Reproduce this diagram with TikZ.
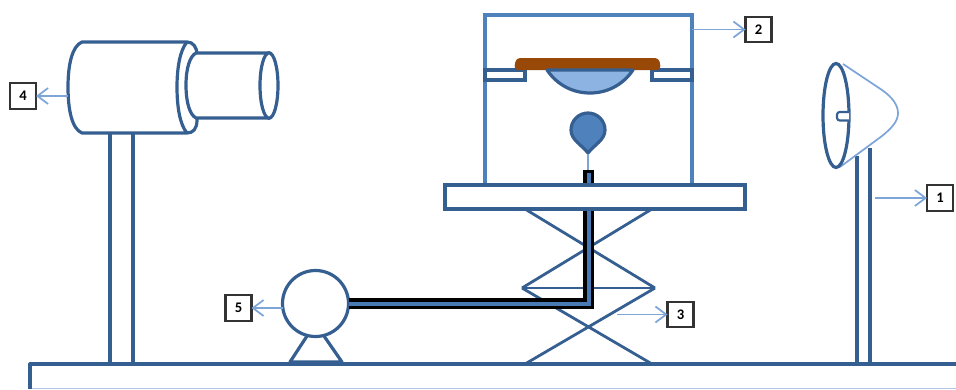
\documentclass[tikz,border=0pt]{standalone}
\usepackage{fontspec}
\setmainfont{Carlito}
\usetikzlibrary{arrows.meta,positioning,shapes.geometric,calc}
\definecolor{DarkBlue}{RGB}{54,95,145}
\definecolor{MidBlue}{RGB}{79,129,189}
\definecolor{PaleBlue}{RGB}{125,165,215}
\definecolor{LensBlue}{RGB}{141,179,226}
\definecolor{Sample}{RGB}{152,72,7}
\tikzset{
  part/.style={draw=DarkBlue,line width=2.4pt,outer sep=0pt,inner sep=0pt,fill=white},
  tag/.style={draw=black!80,line width=1.6pt,fill=white,outer sep=0pt,inner sep=0pt,
    minimum width=19.5pt,minimum height=19pt,font=\bfseries\fontsize{11}{12}\selectfont},
  pointer/.style={-{Straight Barb[length=8pt,width=12pt]},line width=1.3pt,PaleBlue},
  stroke/.style={draw=DarkBlue,line width=2.4pt,line join=round},
  tube/.style={line width=#1,line join=miter}
}

\begin{document}
\begin{tikzpicture}[x=0.75pt,y=-0.75pt]
\useasboundingbox (0,0) rectangle (956,389);

% Table
\draw[PaleBlue!60,line width=0.8pt] (30,388.5) -- (956,388.5);
\draw[stroke] (30,389) -- (30,364) -- (956,364);

% Posts
\draw[stroke] (110,133) -- (110,364) (133,133) -- (133,364);
\draw[stroke] (857,156) -- (857,364) (870,148) -- (870,364);

% Scissor lift
\foreach \a/\b in {525/655,652/522}{
  \draw[stroke,line width=2.1pt] (\a,209) -- (\b,288);
}
\foreach \a/\b in {522/652,655/525}{
  \draw[stroke,line width=2.1pt] (\a,288) -- (\b,364);
}
\draw[stroke,line width=2.1pt] (522,288) -- (655,288);

% Camera
\draw[stroke,fill=white] (82,42) .. controls (72,46) and (68,65) .. (68,87)
  .. controls (68,110) and (72,129) .. (82,133) -- (187,133)
  .. controls (193,133) and (197,129) .. (197,120) -- (197,55)
  .. controls (197,47) and (193,42) .. (187,42) -- cycle;
\draw[stroke,fill=white] (196,53) .. controls (190,56) and (186,68) .. (186,85)
  .. controls (186,103) and (190,115) .. (196,118) -- (270,118) -- (270,53) -- cycle;
\draw[stroke] (187,42) .. controls (180,50) and (177,68) .. (177,87)
  .. controls (177,107) and (180,125) .. (187,133);
\node[part,ellipse,minimum width=13.5pt,minimum height=49pt] (lens) at (269,85.5) {};

% Chamber
\node[part,draw=MidBlue,minimum width=155.25pt,minimum height=127.5pt] (chamber) at (588.5,100) {};
\node[part,minimum width=30pt,minimum height=7.5pt] (ledgeL) at (505,75) {};
\node[part,minimum width=30pt,minimum height=7.5pt] (ledgeR) at (672,75) {};
\fill[Sample,rounded corners=3pt] (514,70) -- (516,58) -- (659,58) -- (661,70) -- cycle;
\draw[stroke,fill=LensBlue] (547,70) .. controls (558,86) and (574,93) .. (590,93)
  .. controls (606,93) and (622,86) .. (633,70) -- cycle;

% Droplet
\draw[stroke,fill=MidBlue] (588,153) .. controls (582,145) and (571,140) .. (571,130)
  .. controls (571,120.6) and (578.6,113) .. (588,113)
  .. controls (597.4,113) and (605,120.6) .. (605,130)
  .. controls (605,140) and (594,145) .. (588,153) -- cycle;
\draw[PaleBlue,line width=1.5pt] (588,154) -- (588,171);

% Pump
\draw[stroke,fill=white] (307,336) -- (290,362) -- (342,362) -- (324,336);
\node[part,circle,minimum size=49.5pt] (pump) at (315.5,303.5) {};

% Tubing
\coordinate (tubeend) at (588.5,170);
\coordinate (tubebend) at (588.5,303.5);
\draw[tube=8pt,black] (pump.east) -- (tubebend) -- (tubeend);
\draw[tube=3pt,MidBlue!80!DarkBlue] (pump.east) -- (tubebend) -- (588.5,173);

% Stage
\node[part,minimum width=225pt,minimum height=18pt] (stage) at (595,197) {};

% Lamp
\draw[PaleBlue,line width=1.3pt] (843,64) -- (882,90) .. controls (892,97) and (898,105) .. (898,113)
  .. controls (898,121) and (892,128) .. (882,136) -- (840,167);
\node[part,ellipse,fill=none,minimum width=19.5pt,minimum height=78pt] (lamp) at (836,115.5) {};
\draw[stroke,line width=1.6pt,fill=white,rounded corners=2pt] (849,112) -- (837,112) -- (837,120.5) -- (849,120.5);

% Labels
\node[tag] (tag1) at (940,198) {1};
\node[tag] (tag2) at (758.5,29.5) {2};
\node[tag] (tag3) at (680.5,314.5) {3};
\node[tag] (tag4) at (23,96) {4};
\node[tag] (tag5) at (238.5,308) {5};

\coordinate (from1) at (875,198);
\coordinate (from3) at (617,314.5);
\coordinate (from4) at (68,96);
\draw[pointer] (from1) -- (tag1.west);
\draw[pointer] (chamber.east |- tag2) -- (tag2.west);
\draw[pointer] (from3) -- (tag3.west);
\draw[pointer] (from4) -- (tag4.east);
\draw[pointer] (pump.west |- tag5) -- (tag5.east);

\end{tikzpicture}
\end{document}
